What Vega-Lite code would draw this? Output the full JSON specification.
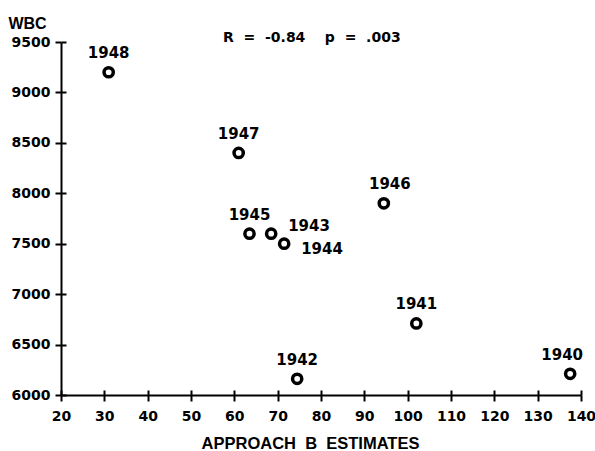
{
  "$schema": "https://vega.github.io/schema/vega-lite/v6.json",
  "autosize": {"type": "none"},
  "padding": {"left": 61, "top": 42, "right": 14, "bottom": 56},
  "width": 520,
  "height": 353,
  "background": "white",
  "config": {
    "view": {"stroke": null},
    "axis": {
      "grid": false,
      "domainColor": "black",
      "domainWidth": 2,
      "tickColor": "black",
      "tickWidth": 2,
      "tickSize": 6,
      "labelFont": "DejaVu Sans",
      "labelFontWeight": "bold",
      "labelFontSize": 14,
      "labelColor": "black",
      "labelOverlap": false,
      "labelBound": false,
      "labelFlush": false,
      "format": "d",
      "titleColor": "black",
      "titleFont": "Liberation Sans",
      "titleFontWeight": "bold"
    },
    "text": {"font": "DejaVu Sans", "fontWeight": "bold", "fontSize": 15, "color": "black"}
  },
  "title": {
    "text": "R\u00a0\u00a0=\u00a0\u00a0-0.84\u00a0\u00a0\u00a0\u00a0p\u00a0\u00a0=\u00a0\u00a0.003",
    "font": "DejaVu Sans",
    "fontWeight": "bold",
    "fontSize": 14,
    "color": "black",
    "anchor": "start",
    "frame": "group",
    "baseline": "alphabetic",
    "dx": 162,
    "dy": 41,
    "offset": 0
  },
  "data": {
    "values": [
      {"year": "1940", "approachB": 137.5, "wbc": 6210},
      {"year": "1941", "approachB": 102, "wbc": 6710},
      {"year": "1942", "approachB": 74.5, "wbc": 6160},
      {"year": "1943", "approachB": 68.5, "wbc": 7600},
      {"year": "1944", "approachB": 71.5, "wbc": 7500},
      {"year": "1945", "approachB": 63.5, "wbc": 7600},
      {"year": "1946", "approachB": 94.5, "wbc": 7900},
      {"year": "1947", "approachB": 61, "wbc": 8400},
      {"year": "1948", "approachB": 31, "wbc": 9200}
    ]
  },
  "resolve": {"axis": {"x": "independent", "y": "independent"}},
  "layer": [
    {
      "mark": {"type": "point", "shape": "circle", "filled": false, "stroke": "black", "strokeWidth": 3.5, "size": 85, "opacity": 1},
      "encoding": {
        "x": {
          "field": "approachB", "type": "quantitative",
          "scale": {"domain": [20, 140], "nice": false, "zero": false},
          "axis": {
            "orient": "bottom",
            "values": [20, 30, 40, 50, 60, 70, 80, 90, 100, 110, 120, 130, 140],
            "labelPadding": 8,
            "title": "APPROACH\u00a0\u00a0B\u00a0\u00a0ESTIMATES",
            "titleFontSize": 16.5,
            "titleX": 249,
            "titleY": 53,
            "titleAlign": "center",
            "titleBaseline": "alphabetic"
          }
        },
        "y": {
          "field": "wbc", "type": "quantitative",
          "scale": {"domain": [6000, 9500], "nice": false, "zero": false},
          "axis": {
            "orient": "left",
            "values": [6000, 6500, 7000, 7500, 8000, 8500, 9000, 9500],
            "labelPadding": 5,
            "title": "WBC",
            "titleFontSize": 16,
            "titleAngle": 0,
            "titleX": -34,
            "titleY": -19,
            "titleAlign": "center",
            "titleBaseline": "middle"
          }
        }
      }
    },
    {
      "transform": [{"filter": {"field": "year", "oneOf": ["1948", "1947", "1945", "1941", "1942"]}}],
      "mark": {"type": "text", "align": "center", "baseline": "middle", "dy": -19},
      "encoding": {
        "x": {
          "field": "approachB", "type": "quantitative",
          "axis": {
            "orient": "bottom",
            "values": [20, 30, 40, 50, 60, 70, 80, 90, 100, 110, 120, 130, 140],
            "tickSize": -5, "labels": false, "domain": false, "title": null
          }
        },
        "y": {
          "field": "wbc", "type": "quantitative",
          "axis": {
            "orient": "left",
            "values": [6000, 6500, 7000, 7500, 8000, 8500, 9000, 9500],
            "tickSize": -5, "labels": false, "domain": false, "title": null
          }
        },
        "text": {"field": "year", "type": "nominal"}
      }
    },
    {
      "transform": [{"filter": {"field": "year", "equal": "1946"}}],
      "mark": {"type": "text", "align": "center", "baseline": "middle", "dx": 6, "dy": -19},
      "encoding": {
        "x": {"field": "approachB", "type": "quantitative", "axis": null},
        "y": {"field": "wbc", "type": "quantitative", "axis": null},
        "text": {"field": "year", "type": "nominal"}
      }
    },
    {
      "transform": [{"filter": {"field": "year", "equal": "1940"}}],
      "mark": {"type": "text", "align": "center", "baseline": "middle", "dx": -8, "dy": -19},
      "encoding": {
        "x": {"field": "approachB", "type": "quantitative", "axis": null},
        "y": {"field": "wbc", "type": "quantitative", "axis": null},
        "text": {"field": "year", "type": "nominal"}
      }
    },
    {
      "transform": [{"filter": {"field": "year", "equal": "1943"}}],
      "mark": {"type": "text", "align": "left", "baseline": "middle", "dx": 17, "dy": -8},
      "encoding": {
        "x": {"field": "approachB", "type": "quantitative", "axis": null},
        "y": {"field": "wbc", "type": "quantitative", "axis": null},
        "text": {"field": "year", "type": "nominal"}
      }
    },
    {
      "transform": [{"filter": {"field": "year", "equal": "1944"}}],
      "mark": {"type": "text", "align": "left", "baseline": "middle", "dx": 17, "dy": 5},
      "encoding": {
        "x": {"field": "approachB", "type": "quantitative", "axis": null},
        "y": {"field": "wbc", "type": "quantitative", "axis": null},
        "text": {"field": "year", "type": "nominal"}
      }
    }
  ]
}
